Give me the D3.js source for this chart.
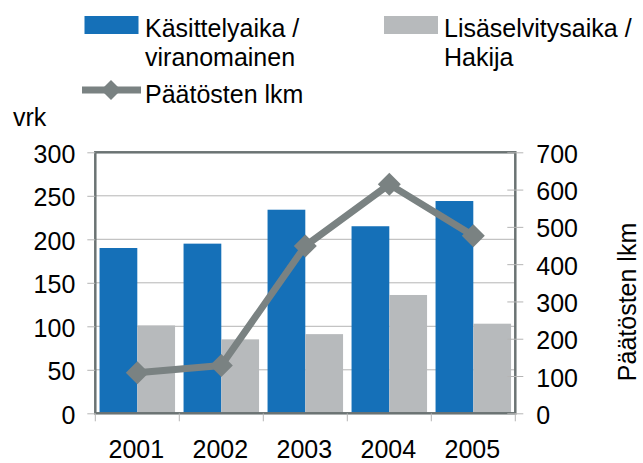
<!DOCTYPE html>
<html><head><meta charset="utf-8">
<script src="https://cdn.jsdelivr.net/npm/d3@7"></script>
<style>
body{margin:0;background:#fff;}
svg text{font-family:"Liberation Sans",Arial,sans-serif;fill:#000;}
</style></head>
<body><svg id="c" width="643" height="463"></svg>
<script>
const years = ["2001","2002","2003","2004","2005"];
const kasittelyaika = [190, 195, 234, 215, 244];
const lisaselvitysaika = [101, 85, 91, 136, 103];
const paatokset = [109, 128, 449, 614, 476];
const leftTicks = [0,50,100,150,200,250,300];
const rightTicks = [0,100,200,300,400,500,600,700];
const seriesNames = ["Käsittelyaika / viranomainen","Lisäselvitysaika / Hakija"];

const blue = "#1570b8", grey = "#b7babc", lineCol = "#7a8282", border = "#6b7373", gridCol = "#b5b5b5";
const svg = d3.select("#c");
const L = 95.3, R = 515.3, T = 152.3, B = 413.3;
const fs = 25;

const x = d3.scaleBand().domain(years).range([L, R]).padding(0);
const xs = d3.scaleBand().domain([0,1]).range([0, x.bandwidth()]).paddingInner(0).paddingOuter(0.1125);
const yL = d3.scaleLinear().domain([0,300]).range([B, T]);
const yR = d3.scaleLinear().domain([0,700]).range([B, T]);

// gridlines
svg.append("g").selectAll("line").data(leftTicks.slice(1,-1)).join("line")
  .attr("x1", L).attr("x2", R).attr("y1", d=>yL(d)).attr("y2", d=>yL(d))
  .attr("stroke", gridCol).attr("stroke-width", 1);

// bars
const vals = [kasittelyaika, lisaselvitysaika];
const cols = [blue, grey];
vals.forEach((arr, s) => {
  svg.append("g").selectAll("rect").data(arr).join("rect")
    .attr("x", (d,i)=> x(years[i]) + xs(s))
    .attr("width", xs.bandwidth())
    .attr("y", d=>yL(d)).attr("height", d=>B - yL(d))
    .attr("fill", cols[s]);
});

// border
svg.append("rect").attr("x", L).attr("y", T).attr("width", R-L).attr("height", B-T)
  .attr("fill","none").attr("stroke", border).attr("stroke-width", 2.5);

// left axis
const gl = svg.append("g").attr("transform", `translate(${L},0)`)
  .call(d3.axisLeft(yL).tickValues(leftTicks).tickSize(8).tickPadding(12).tickFormat(d3.format("d")));
gl.select(".domain").remove();
gl.selectAll(".tick line").attr("stroke", gridCol);
gl.selectAll(".tick text").attr("font-size", fs).attr("dy", 10).attr("fill","#000")
  .style("font-family",'"Liberation Sans",Arial,sans-serif');

// right axis
const gr = svg.append("g").attr("transform", `translate(${R-8},0)`)
  .call(d3.axisRight(yR).tickValues(rightTicks).tickSize(16).tickPadding(13).tickFormat(d3.format("d")));
gr.select(".domain").remove();
gr.selectAll(".tick line").attr("stroke", gridCol);
gr.selectAll(".tick text").attr("font-size", fs).attr("dy", 10).attr("fill","#000")
  .style("font-family",'"Liberation Sans",Arial,sans-serif');

// bottom axis
const gb = svg.append("g").attr("transform", `translate(0,${B})`)
  .call(d3.axisBottom(x).tickSize(0).tickPadding(0));
gb.select(".domain").remove();
gb.selectAll(".tick text").attr("font-size", fs).attr("y", 45).attr("dy", 0).attr("dx", -1).attr("fill","#000")
  .style("font-family",'"Liberation Sans",Arial,sans-serif');
const bounds = years.map(y=>x(y)).concat([R]);
svg.append("g").selectAll("line").data(bounds).join("line")
  .attr("x1", d=>d).attr("x2", d=>d).attr("y1", B).attr("y2", B+8)
  .attr("stroke", gridCol).attr("stroke-width", 1);

// line series
const line = d3.line().x((d,i)=> x(years[i]) + x.bandwidth()/2).y(d=>yR(d));
svg.append("path").datum(paatokset).attr("d", line).attr("fill","none")
  .attr("stroke", lineCol).attr("stroke-width", 7).attr("stroke-linejoin","round");
svg.append("g").selectAll("path").data(paatokset).join("path")
  .attr("d", d3.symbol().type(d3.symbolSquare).size(2*11.5*11.5))
  .attr("transform", (d,i)=>`translate(${x(years[i]) + x.bandwidth()/2},${yR(d)}) rotate(45)`)
  .attr("fill", lineCol);

// axis titles
svg.append("text").attr("x", 13).attr("y", 126).attr("font-size", fs).text("vrk");
svg.append("text").attr("transform","translate(636,302) rotate(-90)").attr("text-anchor","middle")
  .attr("font-size", fs).text("Päätösten lkm");

// legend
const lg = svg.append("g");
lg.append("rect").attr("x",84.5).attr("y",16).attr("width",54).attr("height",18).attr("fill",blue);
lg.append("text").attr("x",145).attr("y",37).attr("font-size",fs).text("Käsittelyaika /");
lg.append("text").attr("x",145).attr("y",65.5).attr("font-size",fs).text("viranomainen");
lg.append("rect").attr("x",384).attr("y",16).attr("width",54).attr("height",18).attr("fill",grey);
lg.append("text").attr("x",444).attr("y",37).attr("font-size",fs).text("Lisäselvitysaika /");
lg.append("text").attr("x",444).attr("y",65.5).attr("font-size",fs).text("Hakija");
lg.append("line").attr("x1",82).attr("x2",141).attr("y1",90).attr("y2",90).attr("stroke",lineCol).attr("stroke-width",7);
lg.append("path").attr("d", d3.symbol().type(d3.symbolSquare).size(2*10*10))
  .attr("transform","translate(111,90) rotate(45)").attr("fill",lineCol);
lg.append("text").attr("x",145).attr("y",103).attr("font-size",fs).text("Päätösten lkm");
</script></body></html>
